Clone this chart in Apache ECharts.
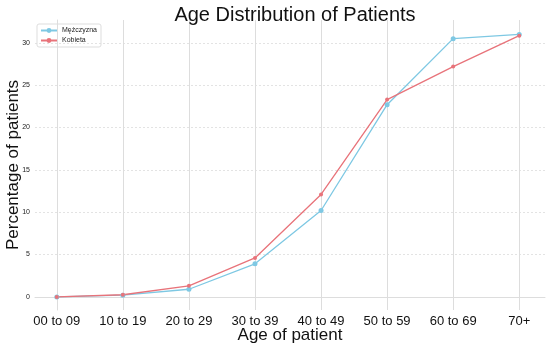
<!DOCTYPE html>
<html><head><meta charset="utf-8">
<script src="https://cdn.jsdelivr.net/npm/echarts@6/dist/echarts.min.js"></script>
<style>html,body{margin:0;padding:0;background:#fff}#c{width:550px;height:348px}</style>
</head><body><div id="c"></div>
<script>
const categories = ['00 to 09','10 to 19','20 to 29','30 to 39','40 to 49','50 to 59','60 to 69','70+'];
const male = [0, 0.2, 0.9, 3.9, 10.2, 22.7, 30.5, 31.0];
const female = [0, 0.25, 1.3, 4.6, 12.1, 23.3, 27.2, 30.85];
const yTicks = [0, 5, 10, 15, 20, 25, 30];
const xTicks = categories.map((c, i) => i);
const font = 'Liberation Sans, Arial, sans-serif';
const chart = echarts.init(document.getElementById('c'), null, {renderer: 'canvas'});
chart.setOption({
  animation: false,
  title: {text: 'Age Distribution of Patients', left: 290, top: 0, textAlign: 'center',
    textStyle: {fontFamily: font, fontSize: 20, fontWeight: 'normal', color: '#111'}},
  legend: {orient: 'vertical', left: 37, top: 24, itemWidth: 16, itemHeight: 6, itemGap: 3,
    padding: [3, 4, 3, 3], borderColor: '#ddd', borderWidth: 1, borderRadius: 2,
    textStyle: {fontFamily: font, fontSize: 7, color: '#222'},
    data: ['Mężczyzna', 'Kobieta']},
  grid: {left: 35, right: 5, top: 20, bottom: 38, outerBoundsMode: 'none', containLabel: false},
  xAxis: {type: 'value', min: -0.33, max: 7.39,
    name: 'Age of patient', nameLocation: 'middle', nameGap: 17, nameMoveOverlap: false,
    nameTextStyle: {fontFamily: font, fontSize: 17, color: '#111'},
    axisLine: {show: true, lineStyle: {color: '#ddd'}},
    axisTick: {show: false, customValues: xTicks},
    axisLabel: {customValues: xTicks, formatter: v => categories[Math.round(v)], margin: 5,
      fontFamily: font, fontSize: 13, color: '#111'},
    splitLine: {show: true, lineStyle: {color: '#ddd', width: 1}}},
  yAxis: {type: 'value', min: -1.55, max: 32.7,
    name: 'Percentage of patients', nameLocation: 'middle', nameGap: 13, nameMoveOverlap: false,
    nameTextStyle: {fontFamily: font, fontSize: 17, color: '#111'},
    axisLine: {show: true, lineStyle: {color: '#ddd'}},
    axisTick: {show: false, customValues: yTicks},
    axisLabel: {customValues: yTicks, margin: 5, fontFamily: font, fontSize: 7, color: '#222'},
    splitLine: {show: true, lineStyle: {color: '#e3e3e3', type: [2, 2], width: 1}}},
  series: [
    {name: 'Mężczyzna', type: 'line', data: categories.map((c, i) => [i, male[i]]),
      symbol: 'circle', symbolSize: 5, color: '#7ec8e3', lineStyle: {width: 1.3}},
    {name: 'Kobieta', type: 'line', data: categories.map((c, i) => [i, female[i]]),
      symbol: 'circle', symbolSize: 4, color: '#e8737a', lineStyle: {width: 1.3}}
  ]
});
</script></body></html>
